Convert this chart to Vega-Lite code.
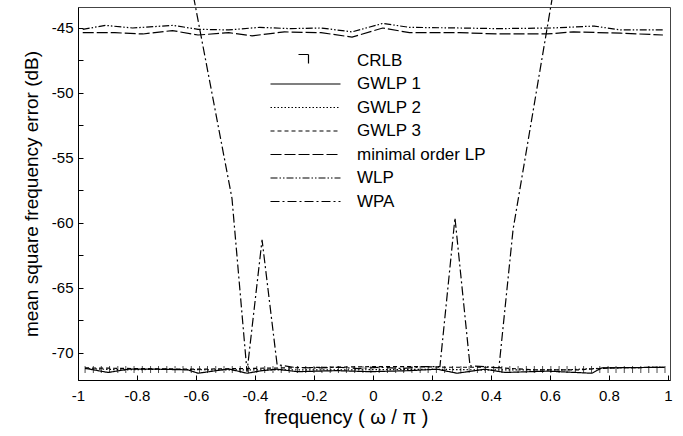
{
  "$schema": "https://vega.github.io/schema/vega-lite/v6.json",
  "width": 592,
  "height": 373,
  "autosize": {"type": "none"},
  "padding": {"left": 78, "top": 7, "right": 13, "bottom": 56},
  "background": "white",
  "config": {
    "font": "Liberation Sans",
    "view": {"stroke": "#444", "strokeWidth": 1},
    "axis": {"domainColor": "black", "tickColor": "black", "labelColor": "black", "titleColor": "black", "grid": false, "titleFontWeight": "normal", "labelFont": "Liberation Sans", "titleFont": "Liberation Sans"}
  },
  "datasets": {
    "lines": [
      {"f": -0.984, "v": -45.1, "s": "WLP"}, {"f": -0.906, "v": -44.8, "s": "WLP"}, {"f": -0.815, "v": -45.0, "s": "WLP"}, {"f": -0.678, "v": -44.8, "s": "WLP"}, {"f": -0.593, "v": -45.1, "s": "WLP"}, {"f": -0.489, "v": -45.15, "s": "WLP"}, {"f": -0.384, "v": -44.95, "s": "WLP"}, {"f": -0.28, "v": -45.05, "s": "WLP"}, {"f": -0.176, "v": -45.0, "s": "WLP"}, {"f": -0.071, "v": -45.3, "s": "WLP"}, {"f": 0.033, "v": -44.65, "s": "WLP"}, {"f": 0.124, "v": -44.95, "s": "WLP"}, {"f": 0.294, "v": -45.0, "s": "WLP"}, {"f": 0.424, "v": -45.05, "s": "WLP"}, {"f": 0.607, "v": -45.0, "s": "WLP"}, {"f": 0.75, "v": -44.85, "s": "WLP"}, {"f": 0.84, "v": -45.15, "s": "WLP"}, {"f": 0.983, "v": -45.15, "s": "WLP"},
      {"f": -0.984, "v": -45.36, "s": "minimal order LP"}, {"f": -0.875, "v": -45.36, "s": "minimal order LP"}, {"f": -0.78, "v": -45.46, "s": "minimal order LP"}, {"f": -0.68, "v": -45.2, "s": "minimal order LP"}, {"f": -0.593, "v": -45.54, "s": "minimal order LP"}, {"f": -0.489, "v": -45.36, "s": "minimal order LP"}, {"f": -0.41, "v": -45.6, "s": "minimal order LP"}, {"f": -0.3, "v": -45.3, "s": "minimal order LP"}, {"f": -0.176, "v": -45.36, "s": "minimal order LP"}, {"f": -0.071, "v": -45.7, "s": "minimal order LP"}, {"f": 0.033, "v": -45.0, "s": "minimal order LP"}, {"f": 0.124, "v": -45.36, "s": "minimal order LP"}, {"f": 0.294, "v": -45.36, "s": "minimal order LP"}, {"f": 0.424, "v": -45.46, "s": "minimal order LP"}, {"f": 0.59, "v": -45.46, "s": "minimal order LP"}, {"f": 0.68, "v": -45.3, "s": "minimal order LP"}, {"f": 0.84, "v": -45.4, "s": "minimal order LP"}, {"f": 0.983, "v": -45.54, "s": "minimal order LP"},
      {"f": -0.63, "v": -40.0, "s": "WPA"}, {"f": -0.478, "v": -58.1, "s": "WPA"}, {"f": -0.427, "v": -71.45, "s": "WPA"}, {"f": -0.376, "v": -61.3, "s": "WPA"}, {"f": -0.325, "v": -70.9, "s": "WPA"}, {"f": -0.27, "v": -71.1, "s": "WPA"}, {"f": -0.2, "v": -71.15, "s": "WPA"}, {"f": -0.12, "v": -71.1, "s": "WPA"}, {"f": -0.05, "v": -71.2, "s": "WPA"}, {"f": 0.02, "v": -71.1, "s": "WPA"}, {"f": 0.1, "v": -71.2, "s": "WPA"}, {"f": 0.17, "v": -71.05, "s": "WPA"}, {"f": 0.227, "v": -71.05, "s": "WPA"}, {"f": 0.278, "v": -59.6, "s": "WPA"}, {"f": 0.329, "v": -71.0, "s": "WPA"}, {"f": 0.378, "v": -71.05, "s": "WPA"}, {"f": 0.427, "v": -71.15, "s": "WPA"}, {"f": 0.475, "v": -60.5, "s": "WPA"}, {"f": 0.63, "v": -39.7, "s": "WPA"},
      {"f": -0.976, "v": -71.18, "s": "GWLP 1"}, {"f": -0.898, "v": -71.5, "s": "GWLP 1"}, {"f": -0.83, "v": -71.25, "s": "GWLP 1"}, {"f": -0.73, "v": -71.25, "s": "GWLP 1"}, {"f": -0.627, "v": -71.3, "s": "GWLP 1"}, {"f": -0.593, "v": -71.56, "s": "GWLP 1"}, {"f": -0.49, "v": -71.23, "s": "GWLP 1"}, {"f": -0.427, "v": -71.56, "s": "GWLP 1"}, {"f": -0.376, "v": -71.36, "s": "GWLP 1"}, {"f": -0.325, "v": -71.25, "s": "GWLP 1"}, {"f": -0.257, "v": -71.44, "s": "GWLP 1"}, {"f": -0.122, "v": -71.36, "s": "GWLP 1"}, {"f": -0.01, "v": -71.44, "s": "GWLP 1"}, {"f": 0.125, "v": -71.36, "s": "GWLP 1"}, {"f": 0.217, "v": -71.25, "s": "GWLP 1"}, {"f": 0.285, "v": -71.56, "s": "GWLP 1"}, {"f": 0.38, "v": -71.25, "s": "GWLP 1"}, {"f": 0.447, "v": -71.5, "s": "GWLP 1"}, {"f": 0.593, "v": -71.4, "s": "GWLP 1"}, {"f": 0.742, "v": -71.56, "s": "GWLP 1"}, {"f": 0.776, "v": -71.15, "s": "GWLP 1"}, {"f": 0.99, "v": -71.1, "s": "GWLP 1"},
      {"f": -0.976, "v": -71.2, "s": "GWLP 2"}, {"f": -0.85, "v": -71.3, "s": "GWLP 2"}, {"f": -0.7, "v": -71.25, "s": "GWLP 2"}, {"f": -0.55, "v": -71.3, "s": "GWLP 2"}, {"f": -0.4, "v": -71.3, "s": "GWLP 2"}, {"f": -0.25, "v": -71.3, "s": "GWLP 2"}, {"f": -0.1, "v": -71.3, "s": "GWLP 2"}, {"f": 0.05, "v": -71.28, "s": "GWLP 2"}, {"f": 0.2, "v": -71.25, "s": "GWLP 2"}, {"f": 0.35, "v": -71.3, "s": "GWLP 2"}, {"f": 0.5, "v": -71.3, "s": "GWLP 2"}, {"f": 0.65, "v": -71.3, "s": "GWLP 2"}, {"f": 0.8, "v": -71.15, "s": "GWLP 2"}, {"f": 0.99, "v": -71.1, "s": "GWLP 2"},
      {"f": -0.976, "v": -71.15, "s": "GWLP 3"}, {"f": -0.8, "v": -71.2, "s": "GWLP 3"}, {"f": -0.6, "v": -71.25, "s": "GWLP 3"}, {"f": -0.45, "v": -71.2, "s": "GWLP 3"}, {"f": -0.3, "v": -71.15, "s": "GWLP 3"}, {"f": -0.15, "v": -71.1, "s": "GWLP 3"}, {"f": 0.0, "v": -71.05, "s": "GWLP 3"}, {"f": 0.15, "v": -71.05, "s": "GWLP 3"}, {"f": 0.25, "v": -71.1, "s": "GWLP 3"}, {"f": 0.4, "v": -71.1, "s": "GWLP 3"}, {"f": 0.55, "v": -71.3, "s": "GWLP 3"}, {"f": 0.7, "v": -71.3, "s": "GWLP 3"}, {"f": 0.8, "v": -71.15, "s": "GWLP 3"}, {"f": 0.99, "v": -71.1, "s": "GWLP 3"}
    ],
    "crlb": [
      {"f": -0.976, "v": -71.27}, {"f": -0.948, "v": -71.27}, {"f": -0.921, "v": -71.27}, {"f": -0.893, "v": -71.27}, {"f": -0.865, "v": -71.27}, {"f": -0.838, "v": -71.27}, {"f": -0.81, "v": -71.27}, {"f": -0.782, "v": -71.27}, {"f": -0.754, "v": -71.27}, {"f": -0.727, "v": -71.27}, {"f": -0.699, "v": -71.27}, {"f": -0.671, "v": -71.27}, {"f": -0.644, "v": -71.27}, {"f": -0.616, "v": -71.27}, {"f": -0.588, "v": -71.27}, {"f": -0.561, "v": -71.27}, {"f": -0.533, "v": -71.27}, {"f": -0.505, "v": -71.27}, {"f": -0.477, "v": -71.27}, {"f": -0.45, "v": -71.27}, {"f": -0.422, "v": -71.27}, {"f": -0.394, "v": -71.27}, {"f": -0.367, "v": -71.27}, {"f": -0.339, "v": -71.27}, {"f": -0.311, "v": -71.27}, {"f": -0.284, "v": -71.27}, {"f": -0.256, "v": -71.27}, {"f": -0.228, "v": -71.27}, {"f": -0.2, "v": -71.27}, {"f": -0.173, "v": -71.27}, {"f": -0.145, "v": -71.27}, {"f": -0.117, "v": -71.27}, {"f": -0.09, "v": -71.27}, {"f": -0.062, "v": -71.27}, {"f": -0.034, "v": -71.27}, {"f": -0.007, "v": -71.27}, {"f": 0.021, "v": -71.27}, {"f": 0.049, "v": -71.27}, {"f": 0.077, "v": -71.27}, {"f": 0.104, "v": -71.27}, {"f": 0.132, "v": -71.27}, {"f": 0.16, "v": -71.27}, {"f": 0.187, "v": -71.27}, {"f": 0.215, "v": -71.27}, {"f": 0.243, "v": -71.27}, {"f": 0.27, "v": -71.27}, {"f": 0.298, "v": -71.27}, {"f": 0.326, "v": -71.27}, {"f": 0.354, "v": -71.27}, {"f": 0.381, "v": -71.27}, {"f": 0.409, "v": -71.27}, {"f": 0.437, "v": -71.27}, {"f": 0.464, "v": -71.27}, {"f": 0.492, "v": -71.27}, {"f": 0.52, "v": -71.27}, {"f": 0.547, "v": -71.27}, {"f": 0.575, "v": -71.27}, {"f": 0.603, "v": -71.27}, {"f": 0.631, "v": -71.27}, {"f": 0.658, "v": -71.27}, {"f": 0.686, "v": -71.27}, {"f": 0.714, "v": -71.27}, {"f": 0.741, "v": -71.27}, {"f": 0.769, "v": -71.27}, {"f": 0.797, "v": -71.27}, {"f": 0.824, "v": -71.27}, {"f": 0.852, "v": -71.27}, {"f": 0.88, "v": -71.27}, {"f": 0.908, "v": -71.27}, {"f": 0.935, "v": -71.27}, {"f": 0.963, "v": -71.27}, {"f": 0.99, "v": -71.27}
    ]
  },
  "encoding": {
    "x": {
      "field": "f", "type": "quantitative",
      "scale": {"domain": [-1, 1.007], "nice": false, "zero": false},
      "axis": {"values": [-1, -0.8, -0.6, -0.4, -0.2, 0, 0.2, 0.4, 0.6, 0.8, 1], "labelExpr": "toString(datum.value)", "tickSize": -5, "labelPadding": 13, "labelFontSize": 15, "title": "frequency ( ω / π )", "titleFontSize": 20, "titlePadding": 4, "titleX": 268, "titleAnchor": "middle", "labelFlush": false}
    },
    "y": {
      "field": "v", "type": "quantitative",
      "scale": {"domain": [-72.08, -43.385], "nice": false, "zero": false},
      "axis": {"values": [-70, -67.5, -65, -62.5, -60, -57.5, -55, -52.5, -50, -47.5, -45], "labelExpr": "datum.value % 5 === 0 ? toString(datum.value) : ''", "tickSize": -5, "labelPadding": 10, "labelFontSize": 15, "title": "mean square frequency error (dB)", "titleFontSize": 19, "titlePadding": 10}
    }
  },
  "layer": [
    {
      "data": {"name": "lines"},
      "mark": {"type": "line", "color": "black", "strokeWidth": 1.2, "clip": false},
      "encoding": {
        "strokeDash": {
          "field": "s", "type": "nominal",
          "scale": {
            "domain": ["CRLB", "GWLP 1", "GWLP 2", "GWLP 3", "minimal order LP", "WLP", "WPA"],
            "range": [[1, 0], [1, 0], [1.5, 2], [4, 3], [11, 3], [7, 2, 1.5, 2, 1.5, 2], [9, 3, 2, 3]]
          },
          "legend": {
            "title": null, "orient": "none", "legendX": 219, "legendY": 45,
            "symbolType": "stroke", "symbolSize": 100, "symbolStrokeWidth": 1.2, "symbolStrokeColor": "black",
            "labelFontSize": 17, "labelFont": "Liberation Sans", "labelColor": "black", "labelOffset": 43, "padding": 0, "rowPadding": 5.5,
            "encode": {"symbols": {"update": {"shape": {"signal": "datum.value === 'CRLB' ? 'M-1.4,-1.2H0.6V0.6' : 'M-7,0H7'"}}}}
          }
        }
      }
    },
    {
      "data": {"name": "crlb"},
      "mark": {"type": "tick", "orient": "vertical", "color": "black", "size": 7, "thickness": 1}
    }
  ]
}
